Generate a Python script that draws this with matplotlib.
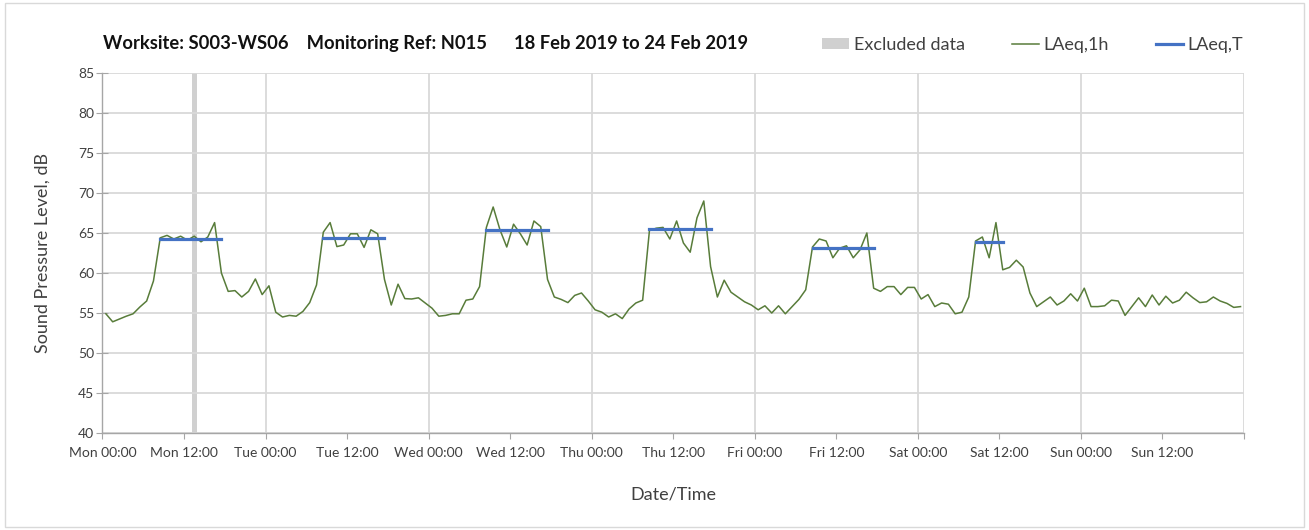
import numpy as np
import matplotlib
matplotlib.use("Agg")
import matplotlib.pyplot as plt
from matplotlib.patches import Patch, Rectangle
from matplotlib.lines import Line2D

plt.rcParams['font.family'] = ['Lato', 'DejaVu Sans']

# hourly LAeq,1h values, one list per day (Mon 18 Feb .. Sun 24 Feb 2019)
mon = [54.9, 53.9, 54.25, 54.6, 54.9, 55.75, 56.5, 59.0, 64.4, 64.7, 64.25, 64.6,
       64.1, 64.6, 63.9, 64.5, 66.3, 60.0, 57.7, 57.8, 57.0, 57.7, 59.25, 57.3]
tue = [58.4, 55.1, 54.5, 54.7, 54.6, 55.2, 56.3, 58.5, 65.1, 66.3, 63.3, 63.5,
       64.9, 64.9, 63.2, 65.4, 64.9, 59.2, 56.0, 58.6, 56.8, 56.75, 56.9, 56.25]
wed = [55.6, 54.6, 54.7, 54.9, 54.9, 56.6, 56.75, 58.3, 65.7, 68.25, 65.4, 63.25,
       66.1, 64.9, 63.5, 66.5, 65.8, 59.2, 57.0, 56.7, 56.3, 57.2, 57.5, 56.5]
thu = [55.4, 55.1, 54.5, 54.9, 54.3, 55.5, 56.25, 56.6, 65.3, 65.6, 65.7, 64.25,
       66.5, 63.75, 62.6, 66.9, 69.0, 60.8, 57.0, 59.1, 57.6, 57.0, 56.4, 56.0]
fri = [55.4, 55.9, 55.0, 55.9, 54.9, 55.8, 56.7, 57.9, 63.25, 64.25, 64.0, 61.9,
       63.1, 63.4, 61.9, 62.9, 65.0, 58.1, 57.7, 58.3, 58.3, 57.3, 58.2, 58.2]
sat = [56.75, 57.3, 55.8, 56.25, 56.1, 54.9, 55.1, 57.0, 64.0, 64.5, 61.9, 66.3,
       60.4, 60.7, 61.6, 60.75, 57.5, 55.8, 56.4, 57.0, 56.0, 56.5, 57.4, 56.5]
sun = [58.1, 55.8, 55.8, 55.9, 56.6, 56.5, 54.7, 55.8, 56.9, 55.8, 57.25, 56.0,
       57.1, 56.25, 56.6, 57.6, 56.9, 56.3, 56.4, 57.0, 56.5, 56.2, 55.7, 55.8]

# LAeq,T periods: (first hour index, last hour index, level)
laeq_t_periods = [(8, 17, 64.3), (32, 41, 64.4), (56, 65, 65.4),
                  (80, 89, 65.5), (104, 113, 63.1), (128, 132, 63.9)]

# excluded hour index
excluded_hours = [13]

tick_labels = ["Mon 00:00", "Mon 12:00", "Tue 00:00", "Tue 12:00", "Wed 00:00",
               "Wed 12:00", "Thu 00:00", "Thu 12:00", "Fri 00:00", "Fri 12:00",
               "Sat 00:00", "Sat 12:00", "Sun 00:00", "Sun 12:00"]

laeq_1h = np.array(mon + tue + wed + thu + fri + sat + sun)
hours = np.arange(len(laeq_1h)) + 0.5

laeq_t = np.full(len(laeq_1h), np.nan)
for a, b, v in laeq_t_periods:
    laeq_t[a:b + 1] = v

fig = plt.figure(figsize=(13.09, 5.30), dpi=100)
ax = fig.add_axes([0.0783, 0.183, 0.8720, 0.6793])

grid_c = '#d9d9d9'
for h in excluded_hours:
    ax.axvspan(hours[h] - 0.37, hours[h] + 0.37, color='#d0d0d0', lw=0, zorder=1)

ax.plot(hours, laeq_1h, color='#587c3a', lw=1.1, zorder=3)
ax.plot(hours, laeq_t, color='#4472c4', lw=2.3, zorder=4)

ax.set_xlim(0, 168)
ax.set_ylim(40, 85)
ax.set_yticks(np.arange(40, 86, 5))
ax.set_xticks(np.arange(0, 169, 12))
ax.set_xticklabels(tick_labels + [""])

ax.yaxis.grid(True, color=grid_c, lw=1.3, zorder=0)
for d in range(24, 169, 24):
    ax.axvline(d, color=grid_c, lw=1.3, zorder=0)

for s in ['top', 'right']:
    ax.spines[s].set_visible(False)
for s in ['left', 'bottom']:
    ax.spines[s].set_color('#a6a6a6')
    ax.spines[s].set_linewidth(1.0)

ax.tick_params(axis='y', direction='inout', length=8, color='#a6a6a6',
               labelsize=10, labelcolor='#404040', pad=2)
ax.tick_params(axis='x', direction='out', length=4, color='#a6a6a6',
               labelsize=10, labelcolor='#404040', pad=6)

ax.set_ylabel("Sound Pressure Level, dB", fontsize=13, color='#404040', labelpad=20)
ax.set_xlabel("Date/Time", fontsize=13, color='#404040', labelpad=20)

fig.text(103 / 1309, 1 - 44 / 530,
         "Worksite: S003-WS06    Monitoring Ref: N015      18 Feb 2019 to 24 Feb 2019",
         fontsize=13.2, fontweight='bold', color='#111111', va='center', ha='left')

handles = [Patch(facecolor='#d0d0d0', edgecolor='none'),
           Line2D([], [], color='#587c3a', lw=1.1),
           Line2D([], [], color='#4472c4', lw=2.3)]
fig.legend(handles, ["Excluded data", "LAeq,1h", "LAeq,T"], ncol=3, frameon=False,
           loc='center right', bbox_to_anchor=(0.962, 1 - 45 / 530),
           fontsize=13, labelcolor='#404040', handlelength=1.5, handleheight=0.6,
           handletextpad=0.25, columnspacing=2.6)

fig.add_artist(Rectangle((0.004, 0.006), 0.992, 0.988, transform=fig.transFigure,
                         fill=False, edgecolor='#d9d9d9', lw=1.0))

fig.savefig("out.png", dpi=100)
